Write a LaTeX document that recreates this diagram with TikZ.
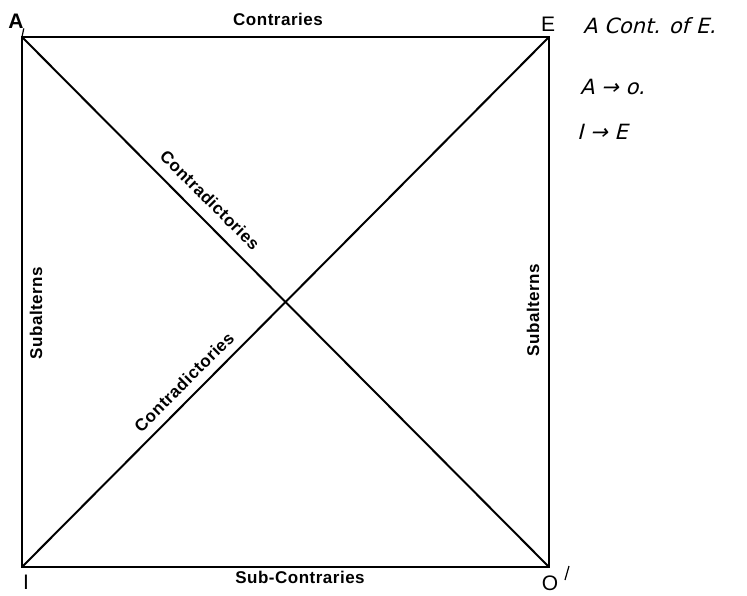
\documentclass[tikz,border=0pt]{standalone}
\usepackage{fontspec}
\setmainfont{Liberation Sans}
\newfontfamily\lblfont[LetterSpace=3]{Liberation Sans}
\newfontfamily\handfont[FakeSlant=0.25]{DejaVu Sans}
\begin{document}
\begin{tikzpicture}[x=1pt,y=-1pt,
  sqline/.style={line width=2.6pt,line cap=round,line join=miter},
  diagline/.style={line width=2pt},
  relation/.style={font=\lblfont\bfseries\fontsize{17}{17}\selectfont,inner sep=0pt},
  corner/.style={font=\fontsize{21}{21}\selectfont,inner sep=0pt},
  hand/.style={font=\handfont\fontsize{21}{21}\selectfont,inner sep=0pt,anchor=west},
  thinmark/.style={line width=1.2pt}]
\useasboundingbox (0,0) rectangle (747,596);
\fill[white] (0,0) rectangle (747,596);
% corners
\coordinate (A) at (22,37);
\coordinate (E) at (549,37);
\coordinate (I) at (22,567);
\coordinate (O) at (549,567);
% square and diagonals
\draw[sqline] (A) -- (E) -- (O) -- (I) -- cycle;
\draw[diagline] (A) -- (O);
\draw[diagline] (I) -- (E);
% corner letters
\node[corner,font=\bfseries\fontsize{21}{21}\selectfont] (la) at (16,21) {A};
\draw[thinmark] (la.south east) -- (A);
\node[corner] (le) at (548,24) {E};
\node[corner] (li) at (26,582) {I};
\node[corner] (lo) at (550,583) {O};
\coordinate (om1) at (565,580);
\coordinate (om2) at (569,566);
\draw[thinmark] (om1) -- (om2);
% relation labels
\node[relation] (contr) at (278,19) {Contraries};
\node[relation] (subc) at (300,577) {Sub-Contraries};
\node[relation,rotate=90] (subl) at (36,313) {Subalterns};
\node[relation,rotate=90] (subr) at (533,310) {Subalterns};
\node[relation,rotate=-45] (cd1) at (210,200) {Contradictories};
\node[relation,rotate=45] (cd2) at (184,382) {Contradictories};
% handwritten notes
\node[hand] (n1) at (583,26) {A Cont. of E.};
\node[hand] (n2) at (580,87) {A → o.};
\node[hand] (n3) at (577,132) {I → E};
\end{tikzpicture}
\end{document}
